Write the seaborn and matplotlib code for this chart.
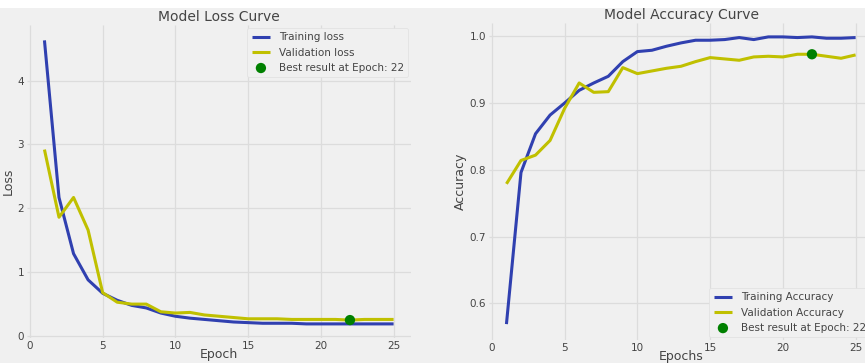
import matplotlib
matplotlib.use('Agg')
import matplotlib.pyplot as plt
import seaborn as sns
import numpy as np
from matplotlib.patches import Rectangle

# Training history values
epochs = list(range(1, 26))
train_loss = [4.63, 2.17, 1.29, 0.88, 0.67, 0.56, 0.48, 0.44, 0.36, 0.31,
              0.28, 0.26, 0.24, 0.22, 0.21, 0.20, 0.20, 0.20, 0.19, 0.19,
              0.19, 0.19, 0.19, 0.19, 0.19]
val_loss = [2.92, 1.86, 2.17, 1.66, 0.68, 0.53, 0.50, 0.50, 0.38, 0.36,
            0.37, 0.33, 0.31, 0.29, 0.27, 0.27, 0.27, 0.26, 0.26, 0.26,
            0.26, 0.25, 0.26, 0.26, 0.26]
train_acc = [0.569, 0.796, 0.854, 0.882, 0.900, 0.919, 0.930, 0.940, 0.962, 0.977,
             0.979, 0.985, 0.990, 0.994, 0.994, 0.995, 0.998, 0.995, 0.999, 0.999,
             0.998, 0.999, 0.997, 0.997, 0.998]
val_acc = [0.779, 0.814, 0.822, 0.844, 0.892, 0.930, 0.916, 0.917, 0.953, 0.944,
           0.948, 0.952, 0.955, 0.962, 0.968, 0.966, 0.964, 0.969, 0.970, 0.969,
           0.973, 0.973, 0.970, 0.967, 0.972]
best_epoch = 22
best_loss = 0.25
best_acc = 0.973

plt.style.use('fivethirtyeight')
plt.rcParams['font.family'] = ['DejaVu Sans']

bg = '#f0f0f0'
text_col = '#444444'
blue = '#3040b0'
yellow = '#c0c000'

fig = plt.figure(figsize=(8.65, 3.63), dpi=100, facecolor=bg)
# white strip at the top of the cropped image
fig.patches.append(Rectangle((0, 0.978), 1, 0.03, transform=fig.transFigure,
                             facecolor='white', edgecolor='none', zorder=0))

ax1 = fig.add_axes([0.0312, 0.069, 0.444, 0.862])
ax2 = fig.add_axes([0.5653, 0.063, 0.444, 0.874])


def style_axis(ax, title, xlabel, ylabel):
    ax.set_facecolor(bg)
    ax.set_title(title, fontsize=10, color=text_col, pad=3)
    ax.set_xlabel(xlabel, fontsize=9, color=text_col, labelpad=-2)
    ax.set_ylabel(ylabel, fontsize=9, color=text_col, labelpad=2)
    ax.tick_params(labelsize=7.5, colors=text_col, pad=2)
    ax.grid(True, color='#dcdcdc', linewidth=0.9)
    for s in ax.spines.values():
        s.set_visible(False)


# Loss panel
sns.lineplot(x=epochs, y=train_loss, ax=ax1, color=blue, linewidth=2.2, label='Training loss')
sns.lineplot(x=epochs, y=val_loss, ax=ax1, color=yellow, linewidth=2.2, label='Validation loss')
sns.scatterplot(x=[best_epoch], y=[best_loss], ax=ax1, s=55, color='green', edgecolor='none',
                label=f'Best result at Epoch: {best_epoch}', zorder=5)
ax1.set_xlim(-0.2, 26.2)
ax1.set_ylim(-0.03, 4.87)
ax1.set_xticks([0, 5, 10, 15, 20, 25])
ax1.set_yticks([0, 1, 2, 3, 4])
style_axis(ax1, 'Model Loss Curve', 'Epoch', 'Loss')
ax1.legend(loc='upper right', fontsize=7.5, facecolor=bg, edgecolor='#e0e0e0', framealpha=1,
           labelcolor=text_col, borderaxespad=0.3, handlelength=1.8)

# Accuracy panel
sns.lineplot(x=epochs, y=train_acc, ax=ax2, color=blue, linewidth=2.2, label='Training Accuracy')
sns.lineplot(x=epochs, y=val_acc, ax=ax2, color=yellow, linewidth=2.2, label='Validation Accuracy')
sns.scatterplot(x=[best_epoch], y=[best_acc], ax=ax2, s=55, color='green', edgecolor='none',
                label=f'Best result at Epoch: {best_epoch}', zorder=5)
ax2.set_xlim(-0.2, 26.2)
ax2.set_ylim(0.545, 1.02)
ax2.set_xticks([0, 5, 10, 15, 20, 25])
ax2.set_yticks([0.6, 0.7, 0.8, 0.9, 1.0])
style_axis(ax2, 'Model Accuracy Curve', 'Epochs', 'Accuracy')
ax2.legend(loc='lower right', fontsize=7.5, facecolor=bg, edgecolor='#e0e0e0', framealpha=1,
           labelcolor=text_col, borderaxespad=0.3, handlelength=1.8)

fig.savefig('out.png', dpi=100, facecolor=bg)
